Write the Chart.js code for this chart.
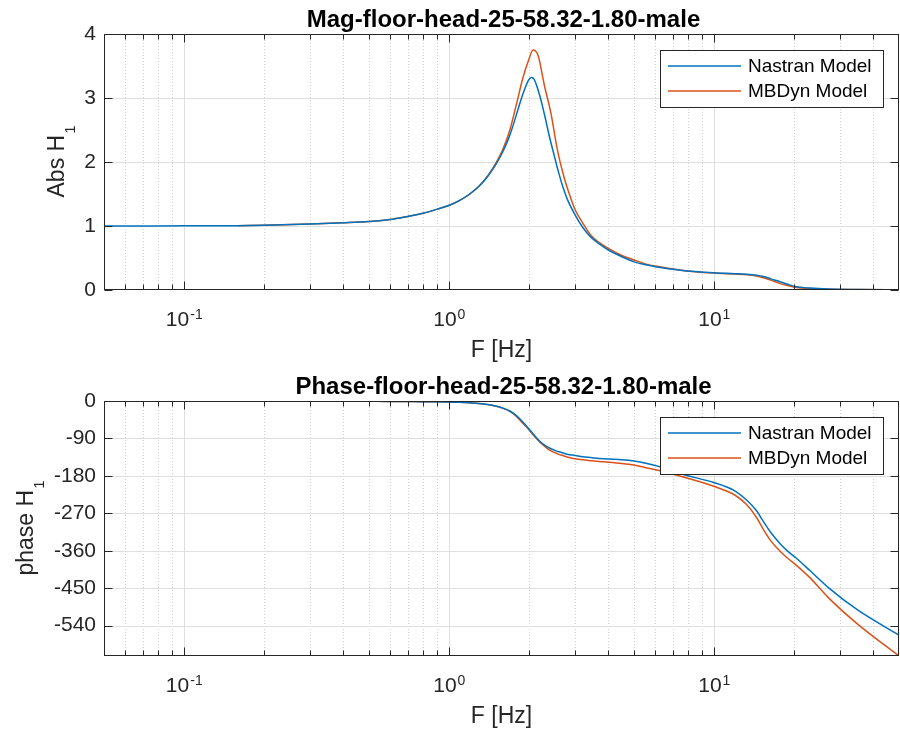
<!DOCTYPE html>
<html>
<head>
<meta charset="utf-8">
<script src="https://cdn.jsdelivr.net/npm/chart.js@4.4.0/dist/chart.umd.min.js"></script>
<style>
  body { margin: 0; background: #fff; }
  #quadro { position: relative; width: 900px; height: 733px; }
  canvas { position: absolute; left: 0; }
</style>
</head>
<body>
<div id="quadro">
  <canvas id="grafico-mag" width="900" height="366" style="top:0px"></canvas>
  <canvas id="grafico-fase" width="900" height="367" style="top:366px"></canvas>
</div>
<script>
// dados
var freqNastran = [0.05, 0.07, 0.1, 0.16, 0.2, 0.3, 0.4, 0.5, 0.6, 0.7, 0.8, 0.9, 1.0, 1.1, 1.2, 1.3, 1.4, 1.5, 1.6, 1.7,
  1.8, 1.9, 2.0, 2.05, 2.1, 2.2, 2.3, 2.4, 2.5, 2.6, 2.7, 2.8, 3.0, 3.2, 3.43, 3.7, 4.0, 4.5, 5.0, 5.6,
  6.1, 7.5, 10, 12, 13.3, 14.5, 15.4, 16.5, 17.8, 19, 20.5, 23, 27, 35, 50];
var magNastran = [1.000, 1.001, 1.002, 1.005, 1.01, 1.03, 1.05, 1.07, 1.10, 1.15, 1.20, 1.26, 1.32, 1.40, 1.50, 1.62, 1.77, 1.95, 2.16, 2.42,
  2.74, 3.05, 3.28, 3.32, 3.29, 3.05, 2.73, 2.39, 2.10, 1.83, 1.60, 1.42, 1.17, 0.98, 0.83, 0.72, 0.625, 0.52, 0.44, 0.39,
  0.36, 0.31, 0.27, 0.255, 0.245, 0.23, 0.21, 0.17, 0.13, 0.09, 0.05, 0.03, 0.015, 0.008, 0.004];
var faseNastran = [0, 0, -0.1, -0.2, -0.3, -0.4, -0.6, -0.8, -1.0, -1.3, -1.6, -2.0, -2.5, -3.3, -4.5, -6, -8.5, -12, -17, -24,
  -35, -50, -66, -74, -82, -96, -106, -113, -118, -122, -125, -128, -131, -134, -136, -138, -139.5, -141, -144, -150,
  -156, -175, -196, -216, -238, -264, -290, -318, -343, -361, -378, -407, -448, -503, -563];

var freqMBDyn = [0.16, 0.2, 0.3, 0.4, 0.5, 0.6, 0.7, 0.8, 0.9, 1.0, 1.1, 1.2, 1.3, 1.4, 1.5, 1.6, 1.7, 1.8, 1.9, 2.0,
  2.08, 2.17, 2.3, 2.43, 2.57, 2.72, 2.85, 3.0, 3.2, 3.43, 3.7, 4.0, 4.5, 5.0, 5.6, 6.1, 7.5, 10, 12, 13.3,
  14.5, 15.4, 16.5, 17.8, 19, 20.5, 23, 27, 35, 50];
var magMBDyn = [1.005, 1.01, 1.03, 1.05, 1.07, 1.10, 1.15, 1.20, 1.26, 1.32, 1.40, 1.50, 1.62, 1.78, 1.97, 2.20, 2.50, 2.90, 3.30, 3.59,
  3.75, 3.67, 3.18, 2.76, 2.19, 1.77, 1.50, 1.25, 1.05, 0.86, 0.74, 0.65, 0.54, 0.47, 0.40, 0.37, 0.31, 0.265, 0.25, 0.24,
  0.22, 0.19, 0.15, 0.10, 0.07, 0.04, 0.025, 0.012, 0.006, 0.003];
var faseMBDyn = [-0.2, -0.3, -0.4, -0.6, -0.8, -1.0, -1.3, -1.6, -2.0, -2.5, -3.3, -4.5, -6, -8.6, -12.2, -17.5, -25, -37, -53, -68,
  -81, -94, -109, -120, -127, -132, -136, -139, -141.5, -143.5, -145.5, -147, -150, -154, -161, -166, -181, -205, -226, -249,
  -280, -309, -338, -361, -378, -395, -424, -472, -537, -613];

var rotulosSerie = ['Nastran Model', 'MBDyn Model'];
var ticksMag = [0, 1, 2, 3, 4];
var ticksFase = [0, -90, -180, -270, -360, -450, -540];
var ticksX = [0.1, 1, 10];
var expoentesX = ['-1', '0', '1'];

var corAzul = '#0072BD', corLaranja = '#D95319', corEixo = '#262626';
var fonte = "'Liberation Sans', Arial, Helvetica, sans-serif";
Chart.defaults.font.family = fonte;

function pares(xs, ys) {
  return xs.map(function (v, i) { return { x: v, y: ys[i] }; });
}

function valoresLog(min, max) {
  var lista = [];
  for (var e = Math.floor(Math.log10(min)); e <= Math.ceil(Math.log10(max)); e++) {
    for (var k = 1; k <= 9; k++) {
      var v = k * Math.pow(10, e);
      if (v >= min * 0.999 && v <= max * 1.001) lista.push({ v: v, major: k === 1 });
    }
  }
  return lista;
}

var eixosMatlab = {
  id: 'eixosMatlab',
  beforeDatasetsDraw: function (chart) {
    var ctx = chart.ctx, a = chart.chartArea, sx = chart.scales.x, sy = chart.scales.y;
    ctx.save();
    ctx.lineWidth = 1;
    valoresLog(sx.min, sx.max).forEach(function (t) {
      var px = Math.round(sx.getPixelForValue(t.v)) + 0.5;
      if (px <= a.left + 1 || px >= a.right - 1) return;
      ctx.setLineDash(t.major ? [] : [1, 2]);
      ctx.strokeStyle = t.major ? '#dfdfdf' : '#cfcfcf';
      ctx.beginPath(); ctx.moveTo(px, a.top); ctx.lineTo(px, a.bottom); ctx.stroke();
    });
    ctx.setLineDash([]);
    ctx.strokeStyle = '#dfdfdf';
    sy.ticks.forEach(function (t) {
      var py = Math.round(sy.getPixelForValue(t.value)) + 0.5;
      if (py <= a.top + 1 || py >= a.bottom - 1) return;
      ctx.beginPath(); ctx.moveTo(a.left, py); ctx.lineTo(a.right, py); ctx.stroke();
    });
    ctx.restore();
  },
  afterDatasetsDraw: function (chart, args, o) {
    var ctx = chart.ctx, a = chart.chartArea, sx = chart.scales.x, sy = chart.scales.y;
    var L = Math.round(a.left) + 0.5, R = Math.round(a.right) - 0.5;
    var T = Math.round(a.top) + 0.5, B = Math.round(a.bottom) - 0.5;
    ctx.save();
    // caixa e marcas
    ctx.strokeStyle = corEixo;
    ctx.lineWidth = 1;
    ctx.strokeRect(L, T, R - L, B - T);
    ctx.beginPath();
    valoresLog(sx.min, sx.max).forEach(function (t) {
      var px = Math.round(sx.getPixelForValue(t.v)) + 0.5;
      if (px <= a.left + 1 || px >= a.right - 1) return;
      var len = t.major ? 8 : 5;
      ctx.moveTo(px, B); ctx.lineTo(px, B - len);
      ctx.moveTo(px, T); ctx.lineTo(px, T + len);
    });
    sy.ticks.forEach(function (t) {
      var py = Math.round(sy.getPixelForValue(t.value)) + 0.5;
      ctx.moveTo(L, py); ctx.lineTo(L + 8, py);
      ctx.moveTo(R, py); ctx.lineTo(R - 8, py);
    });
    ctx.stroke();

    // rotulos do eixo x (10^n)
    ctx.fillStyle = corEixo;
    ctx.textBaseline = 'alphabetic';
    ctx.textAlign = 'left';
    ticksX.forEach(function (v, i) {
      var px = sx.getPixelForValue(v);
      ctx.font = '21px ' + fonte;
      var w1 = ctx.measureText('10').width;
      ctx.font = '14px ' + fonte;
      var w2 = ctx.measureText(expoentesX[i]).width;
      var x0 = px - (w1 + w2) / 2;
      ctx.font = '21px ' + fonte;
      ctx.fillText('10', x0, a.bottom + 36);
      ctx.font = '14px ' + fonte;
      ctx.fillText(expoentesX[i], x0 + w1 + 1, a.bottom + 29);
    });
    var cx = (a.left + a.right) / 2;
    ctx.textAlign = 'center';
    ctx.font = '23px ' + fonte;
    ctx.fillText('F [Hz]', cx, a.bottom + 67);

    // titulo
    ctx.fillStyle = '#000';
    ctx.font = 'bold 24px ' + fonte;
    ctx.fillText(o.titulo, cx + 2, a.top - 7);

    // rotulo do eixo y com subscrito
    ctx.fillStyle = corEixo;
    ctx.save();
    ctx.translate(o.rotuloYx, (a.top + a.bottom) / 2);
    ctx.rotate(-Math.PI / 2);
    ctx.textAlign = 'left';
    ctx.font = '23px ' + fonte;
    var wa = ctx.measureText(o.rotuloY).width;
    ctx.font = '15px ' + fonte;
    var wb = ctx.measureText('1').width;
    ctx.font = '23px ' + fonte;
    ctx.fillText(o.rotuloY, -(wa + wb) / 2, 0);
    ctx.font = '15px ' + fonte;
    ctx.fillText('1', -(wa + wb) / 2 + wa + 1, 11);
    ctx.restore();

    // legenda
    var lx = 660.5, ly = a.top + 16.5, lw = 223, lh = 57;
    ctx.fillStyle = '#fff';
    ctx.fillRect(lx, ly, lw, lh);
    ctx.strokeStyle = corEixo;
    ctx.strokeRect(lx, ly, lw, lh);
    ctx.font = '19px ' + fonte;
    ctx.textAlign = 'left';
    ctx.textBaseline = 'middle';
    chart.data.datasets.forEach(function (ds, i) {
      var yy = ly + 15.5 + i * 25;
      ctx.strokeStyle = ds.borderColor;
      ctx.lineWidth = 1.5;
      ctx.beginPath(); ctx.moveTo(668, yy); ctx.lineTo(741, yy); ctx.stroke();
      ctx.fillStyle = '#000';
      ctx.fillText(ds.label, 748, yy + 1);
    });
    ctx.restore();
  }
};

function criarGrafico(id, serieA, serieB, ticksY, minY, maxY, titulo, rotuloY, rotuloYx, topo, alturaX) {
  var ctx = document.getElementById(id).getContext('2d');
  return new Chart(ctx, {
    type: 'line',
    data: {
      datasets: [{
        label: rotulosSerie[0],
        data: serieA,
        borderColor: corAzul,
        borderWidth: 1.5,
        pointRadius: 0,
        cubicInterpolationMode: 'monotone'
      }, {
        label: rotulosSerie[1],
        data: serieB,
        borderColor: corLaranja,
        borderWidth: 1.5,
        pointRadius: 0,
        cubicInterpolationMode: 'monotone'
      }]
    },
    options: {
      responsive: false,
      animation: false,
      devicePixelRatio: 1,
      layout: { padding: { top: topo, right: 1, left: 0, bottom: 0 } },
      plugins: {
        legend: { display: false },
        title: { display: false },
        tooltip: { enabled: false },
        eixosMatlab: { titulo: titulo, rotuloY: rotuloY, rotuloYx: rotuloYx }
      },
      scales: {
        x: {
          type: 'logarithmic',
          min: 0.05,
          max: 50,
          ticks: { display: false },
          grid: { display: false, drawTicks: false },
          border: { display: false },
          afterFit: function (s) { s.height = alturaX; }
        },
        y: {
          min: minY,
          max: maxY,
          afterBuildTicks: function (s) { s.ticks = ticksY.map(function (v) { return { value: v }; }); },
          afterFit: function (s) { s.width = 104; },
          grid: { display: false, drawTicks: false },
          border: { display: false },
          ticks: { color: corEixo, font: { size: 21 }, padding: 8 }
        }
      }
    },
    plugins: [eixosMatlab]
  });
}

criarGrafico('grafico-mag', pares(freqNastran, magNastran), pares(freqMBDyn, magMBDyn), ticksMag, 0, 4,
  'Mag-floor-head-25-58.32-1.80-male', 'Abs H', 64, 34, 76);
criarGrafico('grafico-fase', pares(freqNastran, faseNastran), pares(freqMBDyn, faseMBDyn), ticksFase, -613, 0,
  'Phase-floor-head-25-58.32-1.80-male', 'phase H', 33, 35, 77);
</script>
</body>
</html>
